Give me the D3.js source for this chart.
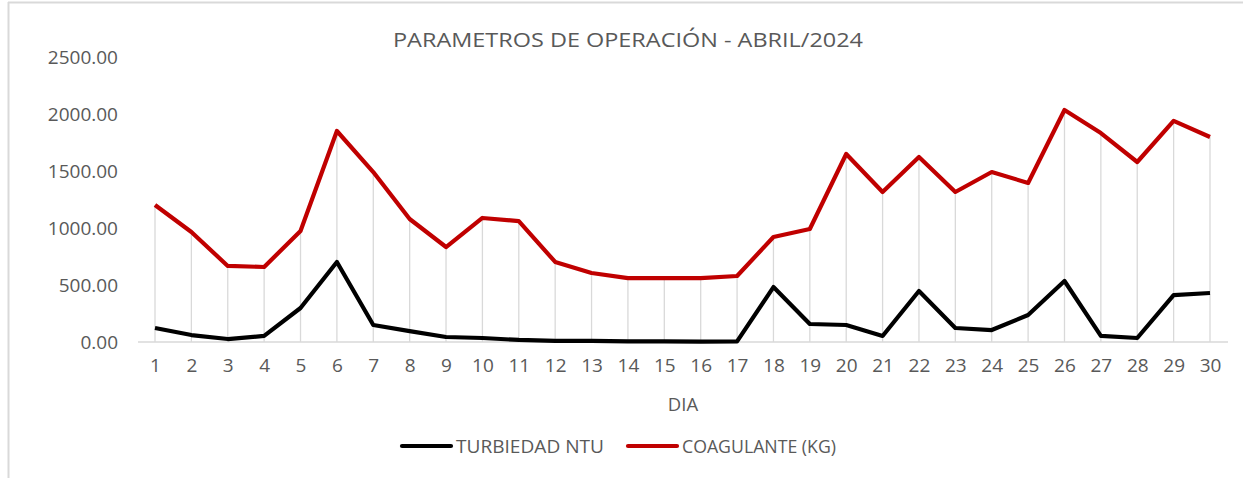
<!DOCTYPE html>
<html>

<head>
    <meta charset="utf-8">
    <style type="text/css">
        body {
            margin: 0;
            background: #fff;
        }

        text {
            font-family: "Open Sans", "Noto Sans", sans-serif;
            fill: #595959;
        }
    </style>
</head>

<body>
    <div id="canvas"></div>

    <script type="text/javascript" src="https://cdn.jsdelivr.net/npm/d3@7"></script>
    <script type="text/javascript">
        (function () {

            var days = d3.range(1, 31);
            var turbiedad = [123, 61, 26, 53, 298, 702, 149, 96, 44, 35,
                18, 9, 9, 6, 6, 4, 5, 482, 158, 149,
                53, 447, 123, 105, 237, 535, 53, 35, 412, 430];
            var coagulante = [1202, 965, 667, 658, 974, 1851, 1491, 1079, 833, 1088,
                1061, 702, 605, 561, 561, 561, 579, 921, 991, 1649,
                1316, 1623, 1316, 1491, 1395, 2035, 1833, 1579, 1939, 1798];
            var yTicks = [0, 500, 1000, 1500, 2000, 2500];
            var seriesNames = ["TURBIEDAD NTU", "COAGULANTE (KG)"];
            var seriesColors = ["#000000", "#c00000"];

            var width = 1243,
                height = 478;

            var svg = d3.select('#canvas').append('svg')
                .attr('width', width)
                .attr('height', height);

            // chart frame (left and top edges visible)
            svg.append('line').attr('x1', 8.5).attr('x2', 8.5).attr('y1', 2).attr('y2', height)
                .attr('stroke', '#d9d9d9').attr('stroke-width', 2);
            svg.append('line').attr('x1', 8).attr('x2', width).attr('y1', 2.5).attr('y2', 2.5)
                .attr('stroke', '#d9d9d9').attr('stroke-width', 2);

            var x = d3.scalePoint().domain(days).range([155, 1210]);
            var y = d3.scaleLinear().domain([0, 2500]).range([342, 57]);

            // drop lines
            svg.append('g').selectAll('line')
                .data(days)
                .enter().append('line')
                .attr('x1', function (d) { return x(d); })
                .attr('x2', function (d) { return x(d); })
                .attr('y1', function (d, i) { return y(Math.max(turbiedad[i], coagulante[i])); })
                .attr('y2', y(0))
                .attr('stroke', '#d9d9d9')
                .attr('stroke-width', 1.3);

            // x axis line
            svg.append('line')
                .attr('x1', 138).attr('x2', 1228)
                .attr('y1', y(0)).attr('y2', y(0))
                .attr('stroke', '#d9d9d9').attr('stroke-width', 1.5);

            // y tick labels
            var yAxis = d3.axisLeft(y).tickValues(yTicks).tickSize(0).tickPadding(0)
                .tickFormat(d3.format('.2f'));
            var gy = svg.append('g').attr('transform', 'translate(118,0)').call(yAxis);
            gy.select('.domain').remove();
            gy.selectAll('text').style('font-size', '19px').style('fill', '#595959')
                .style('font-family', '"Open Sans", sans-serif');

            // x tick labels
            var xAxis = d3.axisBottom(x).tickSize(0).tickPadding(0);
            var gx = svg.append('g').attr('transform', 'translate(0,' + 358 + ')').call(xAxis);
            gx.select('.domain').remove();
            gx.selectAll('text').style('font-size', '19px').style('fill', '#595959')
                .style('font-family', '"Open Sans", sans-serif');

            // series lines
            var line = d3.line()
                .x(function (d, i) { return x(days[i]); })
                .y(function (d) { return y(d); });

            [turbiedad, coagulante].forEach(function (s, k) {
                svg.append('path')
                    .datum(s)
                    .attr('d', line)
                    .attr('fill', 'none')
                    .attr('stroke', seriesColors[k])
                    .attr('stroke-width', 4.2)
                    .attr('stroke-linejoin', 'round');
            });

            // title
            svg.append('text')
                .attr('x', 628).attr('y', 47)
                .attr('text-anchor', 'middle')
                .attr('textLength', 470)
                .attr('lengthAdjust', 'spacingAndGlyphs')
                .style('font-size', '20px')
                .text('PARAMETROS DE OPERACIÓN - ABRIL/2024');

            // axis title
            svg.append('text')
                .attr('x', 683).attr('y', 411)
                .attr('text-anchor', 'middle')
                .style('font-size', '18.5px')
                .text('DIA');

            // legend
            var legendX = [400, 626],
                legendW = [148, 154];
            seriesNames.forEach(function (name, k) {
                var g = svg.append('g').attr('transform', 'translate(' + legendX[k] + ',446)');
                g.append('line').attr('x1', 2).attr('x2', 51).attr('y1', 0).attr('y2', 0)
                    .attr('stroke', seriesColors[k]).attr('stroke-width', 4.2)
                    .attr('stroke-linecap', 'round');
                g.append('text').attr('x', 56).attr('y', 7)
                    .attr('textLength', legendW[k])
                    .attr('lengthAdjust', 'spacingAndGlyphs')
                    .style('font-size', '18.5px')
                    .text(name);
            });

        })();
    </script>
</body>

</html>
